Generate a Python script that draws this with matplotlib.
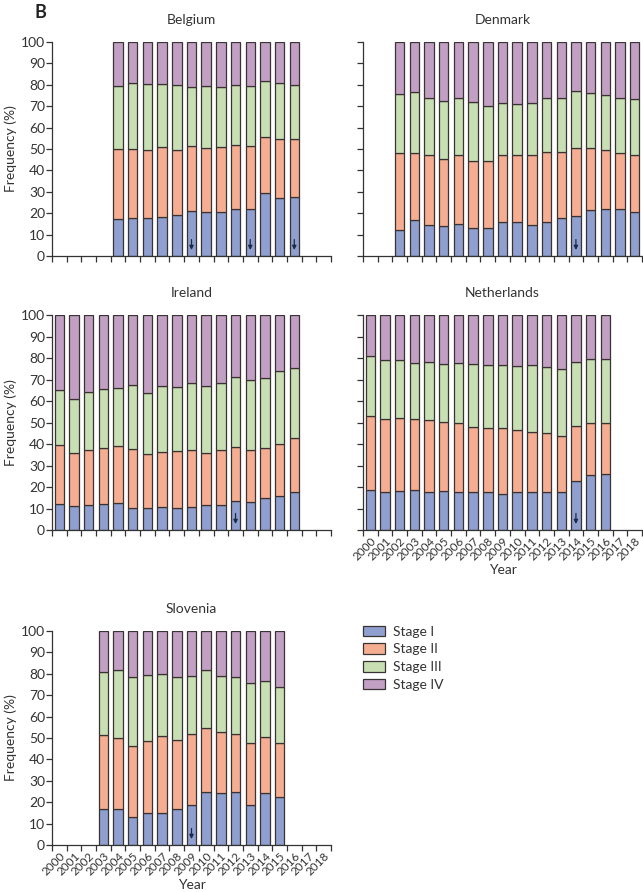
import matplotlib
matplotlib.use('Agg')  # no UI backend

import numpy as np
import matplotlib.pyplot as plt

plt.rcParams['font.family'] = ['Lato', 'DejaVu Sans']

years = list(range(2000, 2019))
stage_names = ['Stage I', 'Stage II', 'Stage III', 'Stage IV']
stage_colors = ['#8fa0d0', '#f6ae92', '#c8deb3', '#c2a0c4']
edge_color = '#3b3333'
arrow_color = '#1c2a48'

# Belgium, 2004-2016
belgium_years = list(range(2004, 2017))
belgium_s1 = [17.1, 17.6, 17.6, 18.0, 19.0, 20.8, 20.5, 20.5, 21.8, 22.1, 29.5, 27.1, 27.4]
belgium_s2 = [33.0, 32.5, 32.0, 33.0, 30.6, 30.7, 30.0, 30.5, 30.1, 29.4, 26.3, 27.8, 27.5]
belgium_s3 = [29.4, 30.9, 31.0, 29.6, 30.2, 27.3, 28.8, 28.0, 28.0, 27.8, 26.0, 25.8, 24.9]
belgium_s4 = [20.5, 19.0, 19.4, 19.4, 20.2, 21.2, 20.7, 21.0, 20.1, 20.7, 18.2, 19.3, 20.2]
belgium_arrows = [2009, 2013, 2016]

# Denmark, 2002-2018
denmark_years = list(range(2002, 2019))
denmark_s1 = [12.3, 16.6, 14.5, 13.8, 15.1, 13.2, 13.2, 15.7, 15.9, 14.3, 16.0, 17.7, 18.5, 21.6, 22.1, 21.8, 20.5]
denmark_s2 = [35.9, 31.5, 32.6, 31.3, 31.9, 31.3, 31.4, 31.6, 31.4, 32.7, 32.4, 31.1, 32.2, 28.8, 27.4, 26.4, 26.6]
denmark_s3 = [27.5, 28.6, 26.8, 27.5, 26.7, 27.5, 25.7, 24.4, 23.9, 24.4, 25.3, 25.2, 26.3, 25.8, 25.5, 25.8, 26.2]
denmark_s4 = [24.3, 23.3, 26.1, 27.4, 26.3, 28.0, 29.7, 28.3, 28.8, 28.6, 26.3, 26.0, 23.0, 23.8, 25.0, 26.0, 26.7]
denmark_arrows = [2014]

# Ireland, 2000-2016
ireland_years = list(range(2000, 2017))
ireland_s1 = [12.0, 11.0, 11.8, 12.3, 12.6, 10.4, 10.3, 10.5, 10.4, 10.8, 11.4, 11.8, 13.5, 12.8, 14.7, 15.9, 17.6]
ireland_s2 = [27.5, 25.0, 25.2, 25.7, 26.4, 27.3, 25.0, 25.9, 26.2, 26.4, 24.4, 25.4, 25.2, 24.5, 23.3, 24.1, 25.2]
ireland_s3 = [25.5, 25.0, 27.0, 27.8, 27.2, 29.8, 28.5, 30.4, 30.0, 31.1, 31.2, 31.4, 32.3, 32.4, 32.5, 33.8, 32.6]
ireland_s4 = [35.0, 39.0, 36.0, 34.2, 33.8, 32.5, 36.2, 33.2, 33.4, 31.7, 33.0, 31.4, 29.0, 30.3, 29.5, 26.2, 24.6]
ireland_arrows = [2012]

# Netherlands, 2000-2016
netherlands_years = list(range(2000, 2017))
netherlands_s1 = [18.7, 17.8, 18.1, 18.4, 17.9, 18.1, 17.9, 17.5, 17.5, 16.8, 17.9, 17.6, 17.5, 17.5, 22.6, 25.6, 26.2]
netherlands_s2 = [34.2, 34.0, 33.9, 33.2, 33.1, 32.0, 31.7, 30.5, 29.9, 30.6, 28.6, 27.8, 27.4, 26.0, 25.6, 24.2, 23.7]
netherlands_s3 = [27.8, 27.1, 26.9, 26.2, 27.3, 27.3, 28.1, 29.1, 29.2, 29.4, 29.8, 31.2, 31.1, 31.2, 30.1, 29.8, 29.7]
netherlands_s4 = [19.3, 21.1, 21.1, 22.2, 21.7, 22.6, 22.3, 22.9, 23.4, 23.2, 23.7, 23.4, 24.0, 25.3, 21.7, 20.4, 20.4]
netherlands_arrows = [2014]

# Slovenia, 2003-2015
slovenia_years = list(range(2003, 2016))
slovenia_s1 = [16.7, 16.8, 13.2, 14.8, 14.8, 17.0, 18.7, 24.6, 24.5, 24.6, 18.8, 24.1, 22.3]
slovenia_s2 = [34.5, 33.2, 33.2, 33.6, 36.1, 31.9, 33.2, 29.9, 28.1, 27.4, 28.7, 26.5, 25.5]
slovenia_s3 = [29.6, 31.6, 31.9, 30.9, 28.9, 29.4, 27.2, 27.3, 26.3, 26.3, 28.2, 26.2, 26.2]
slovenia_s4 = [19.2, 18.4, 21.7, 20.7, 20.2, 21.7, 20.9, 18.2, 21.1, 21.7, 24.3, 23.2, 26.0]
slovenia_arrows = [2009]

W, H = 643, 892
fig = plt.figure(figsize=(W / 100, H / 100), dpi=100)


def px_axes(x0, y0, x1, y1):
    return fig.add_axes([x0 / W, 1 - y1 / H, (x1 - x0) / W, (y1 - y0) / H])


def draw_panel(ax, title, yrs, s1, s2, s3, s4, arrows, ylab, xlab):
    x = np.array([years.index(y) for y in yrs])
    bottom = np.zeros(len(x))
    bars = []
    for vals, col, name in zip([s1, s2, s3, s4], stage_colors, stage_names):
        b = ax.bar(x, vals, width=0.64, bottom=bottom, color=col,
                   edgecolor=edge_color, linewidth=0.9, label=name)
        bottom = bottom + np.array(vals)
        bars.append(b)
    for a in arrows:
        xi = years.index(a)
        ax.annotate('', xy=(xi, 1.5), xytext=(xi, 9),
                    arrowprops=dict(arrowstyle='-|>', color=arrow_color,
                                    lw=0.9, mutation_scale=6))
    ax.set_xlim(-0.5, len(years) - 0.5)
    ax.set_ylim(0, 100)
    ax.set_yticks(range(0, 101, 10))
    ax.spines['top'].set_visible(False)
    ax.spines['right'].set_visible(False)
    for s in ['left', 'bottom']:
        ax.spines[s].set_color('#333333')
        ax.spines[s].set_linewidth(0.9)
    ax.tick_params(axis='y', direction='out', length=4, width=0.9,
                   color='#333333', labelsize=10, pad=1, labelcolor='#333333')
    ax.set_xticks(range(len(years)))
    ax.set_xticks(np.arange(-0.5, len(years), 1), minor=True)
    ax.tick_params(axis='x', which='major', length=0, pad=4)
    ax.tick_params(axis='x', which='minor', direction='out', length=4,
                   width=0.9, color='#333333')
    if xlab:
        ax.set_xticklabels([str(y) for y in years], rotation=45, ha='right',
                           rotation_mode='anchor', fontsize=8.5, color='#333333')
        ax.set_xlabel('Year', fontsize=10, color='#333333', labelpad=1)
    else:
        ax.set_xticklabels([])
    if ylab:
        ax.set_ylabel('Frequency (%)', fontsize=10, color='#333333', labelpad=3)
    else:
        ax.set_yticklabels([])
    ax.set_title(title, fontsize=10, color='#333333', pad=13)
    return bars


ax1 = px_axes(52, 42, 331, 256)
bars = draw_panel(ax1, 'Belgium', belgium_years, belgium_s1, belgium_s2, belgium_s3,
                  belgium_s4, belgium_arrows, True, False)
ax2 = px_axes(363, 42, 642, 256)
draw_panel(ax2, 'Denmark', denmark_years, denmark_s1, denmark_s2, denmark_s3,
           denmark_s4, denmark_arrows, False, False)
ax3 = px_axes(52, 315, 331, 530)
draw_panel(ax3, 'Ireland', ireland_years, ireland_s1, ireland_s2, ireland_s3,
           ireland_s4, ireland_arrows, True, False)
ax4 = px_axes(363, 315, 642, 530)
draw_panel(ax4, 'Netherlands', netherlands_years, netherlands_s1, netherlands_s2,
           netherlands_s3, netherlands_s4, netherlands_arrows, False, True)
ax5 = px_axes(52, 631, 331, 845)
draw_panel(ax5, 'Slovenia', slovenia_years, slovenia_s1, slovenia_s2, slovenia_s3,
           slovenia_s4, slovenia_arrows, True, True)

fig.legend(handles=bars, labels=stage_names, loc='upper left',
           bbox_to_anchor=(350 / W, 1 - 613 / H), frameon=False, fontsize=10,
           handlelength=1.6, handleheight=0.8, labelspacing=0.4,
           handletextpad=0.6, labelcolor='#333333')

fig.text(35 / W, 1 - 18 / H, 'B', fontsize=13, fontweight='bold', color='#222222')

plt.savefig('out.png', dpi=100)
